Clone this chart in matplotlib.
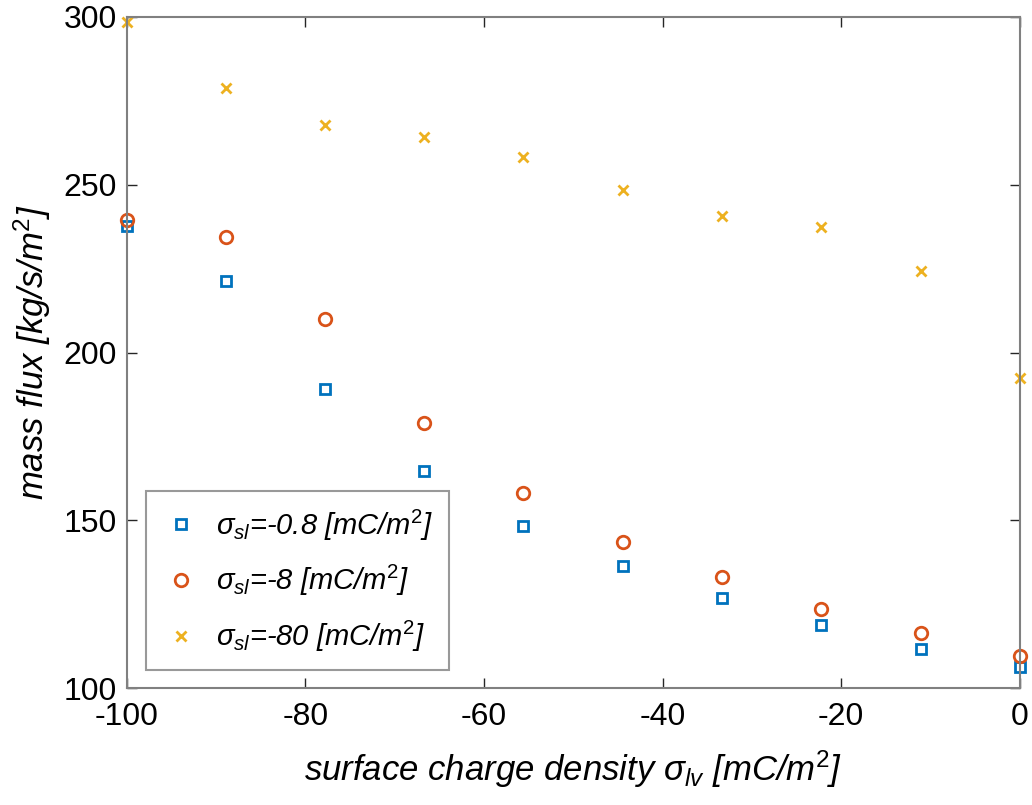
import numpy as np
import matplotlib
matplotlib.use("Agg")
import matplotlib.pyplot as plt

plt.rcParams['font.family'] = ['Liberation Sans', 'DejaVu Sans']
plt.rcParams['mathtext.fontset'] = 'custom'
plt.rcParams['mathtext.rm'] = 'Liberation Sans'
plt.rcParams['mathtext.it'] = 'Liberation Sans:italic'
plt.rcParams['mathtext.bf'] = 'Liberation Sans:bold'
plt.rcParams['axes.unicode_minus'] = False

# datos
sigma_lv = [-100, -88.9, -77.8, -66.7, -55.6, -44.4, -33.3, -22.2, -11.1, 0]
flux_08 = [237.7, 221.3, 189.1, 164.7, 148.3, 136.4, 126.8, 118.8, 111.6, 106.3]
flux_8 = [239.5, 234.4, 210.0, 179.0, 158.1, 143.5, 133.1, 123.5, 116.4, 109.5]
flux_80 = [298.5, 278.8, 267.8, 264.2, 258.3, 248.4, 240.7, 237.4, 224.3, 192.4]
labels = [r'$\sigma_{sl}$=-0.8 [mC/m$^2$]',
          r'$\sigma_{sl}$=-8 [mC/m$^2$]',
          r'$\sigma_{sl}$=-80 [mC/m$^2$]']

c1 = '#0072BD'
c2 = '#D95319'
c3 = '#EDB120'

fig = plt.figure(figsize=(10.32, 8.05), dpi=100)
ax = fig.add_axes([0.123, 0.1453, 0.865, 0.8336])

ax.plot(sigma_lv, flux_08, 's', ms=7, mfc='none', mec=c1, mew=2, label=labels[0], clip_on=False)
ax.plot(sigma_lv, flux_8, 'o', ms=9, mfc='none', mec=c2, mew=2, label=labels[1], clip_on=False)
ax.plot(sigma_lv, flux_80, 'x', ms=7, mec=c3, mew=2, label=labels[2], clip_on=False)

ax.set_xlim(-100, 0)
ax.set_ylim(100, 300)
ax.set_xticks([-100, -80, -60, -40, -20, 0])
ax.set_yticks([100, 150, 200, 250, 300])

for s in ax.spines.values():
    s.set_color('#808080')
    s.set_linewidth(1.5)
ax.tick_params(direction='in', length=7, width=1, color='#262626',
               top=True, right=True, labelsize=23, labelcolor='black')
ax.tick_params(axis='x', pad=10)
ax.tick_params(axis='y', pad=7)

ax.set_xlabel(r'surface charge density $\sigma_{lv}$ [mC/m$^2$]', fontsize=25, style='italic', labelpad=12)
ax.set_ylabel(r'mass flux [kg/s/m$^2$]', fontsize=25, style='italic', labelpad=8)

leg = ax.legend(loc='lower left', bbox_to_anchor=(0.021, 0.027), borderaxespad=0,
                fontsize=21, frameon=True, fancybox=False, borderpad=0.55,
                labelspacing=0.7, handletextpad=0.55, handlelength=1.3)
leg.get_frame().set_edgecolor('#808080')
leg.get_frame().set_linewidth(1.5)
for t in leg.get_texts():
    t.set_fontstyle('italic')

plt.savefig('out.png', dpi=100)
